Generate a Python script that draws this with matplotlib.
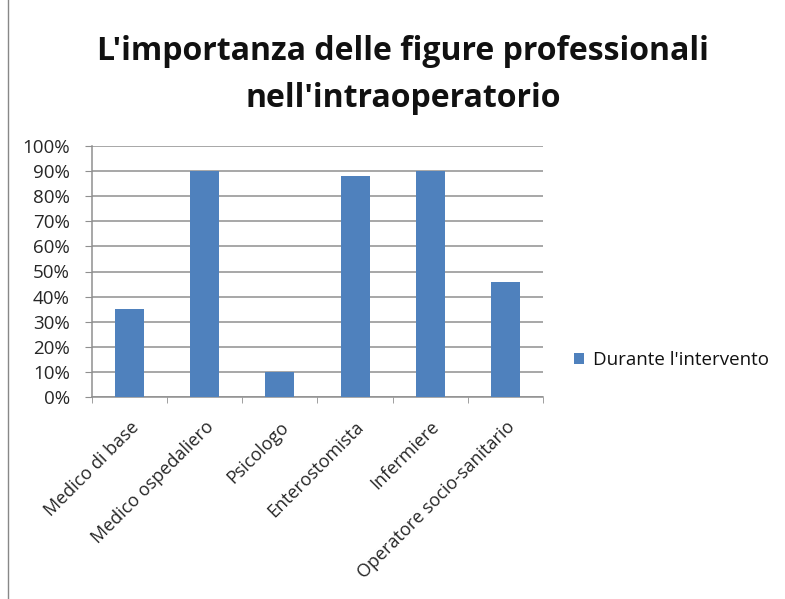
import matplotlib
matplotlib.use("Agg")
import matplotlib.pyplot as plt
import numpy as np
from matplotlib.patches import Rectangle

categories = ['Medico di base', 'Medico ospedaliero', 'Psicologo',
              'Enterostomista', 'Infermiere', 'Operatore socio-sanitario']
values = [35, 90, 10, 88, 90, 46]
series_name = "Durante l'intervento"
title_lines = ["L'importanza delle figure professionali", "nell'intraoperatorio"]

plt.rcParams['font.family'] = ['Open Sans', 'DejaVu Sans']

W, H = 785, 599
fig = plt.figure(figsize=(W / 100, H / 100), dpi=100)
# axes box in pixels: left 92, right 543, top 146, bottom 397
ax = fig.add_axes([92 / W, 1 - 397 / H, (543 - 92) / W, (397 - 146) / H])

x = np.arange(len(categories))
bar_color = '#4f81bd'
ax.bar(x, values, width=0.385, color=bar_color, label=series_name, zorder=3)

ax.set_xlim(-0.5, len(categories) - 0.5)
ax.set_ylim(0, 100)
ax.set_yticks(np.arange(0, 101, 10))
ax.set_yticklabels([f'{v}%' for v in range(0, 101, 10)], fontsize=13.5, color='#262626')
ax.grid(axis='y', color='#8f8f8f', linewidth=1.1, zorder=0)

ax.set_xticks(x)
ax.set_xticklabels(categories, rotation=45, ha='right', rotation_mode='anchor',
                   fontsize=13, color='#262626')
ax.tick_params(axis='x', length=0, pad=15)
ax.set_xticks(np.arange(-0.5, len(categories)), minor=True)
ax.tick_params(axis='x', which='minor', length=4.5, color='#8f8f8f')
ax.tick_params(axis='y', length=5, color='#8f8f8f', pad=11)

for side in ['top', 'right']:
    ax.spines[side].set_visible(False)
for side in ['left', 'bottom']:
    ax.spines[side].set_color('#8f8f8f')
    ax.spines[side].set_linewidth(1.1)

fig.text(403 / W, 1 - 60 / H, title_lines[0], ha='center', va='baseline',
         fontsize=23, fontweight='bold', color='#111111')
fig.text(403 / W, 1 - 107 / H, title_lines[1], ha='center', va='baseline',
         fontsize=23, fontweight='bold', color='#111111')

ax.legend(loc='center left', bbox_to_anchor=(574 / W, 1 - 360 / H),
          bbox_transform=fig.transFigure, frameon=False, borderpad=0,
          borderaxespad=0, fontsize=13.5, handlelength=0.55, handleheight=0.55,
          handletextpad=0.45, labelcolor='#111111')

# chart frame
fig.add_artist(Rectangle((8 / W, -0.05), 1.2, 1.2, transform=fig.transFigure,
                         fill=False, edgecolor='#888888', linewidth=1))

fig.savefig('out.png', dpi=100)
